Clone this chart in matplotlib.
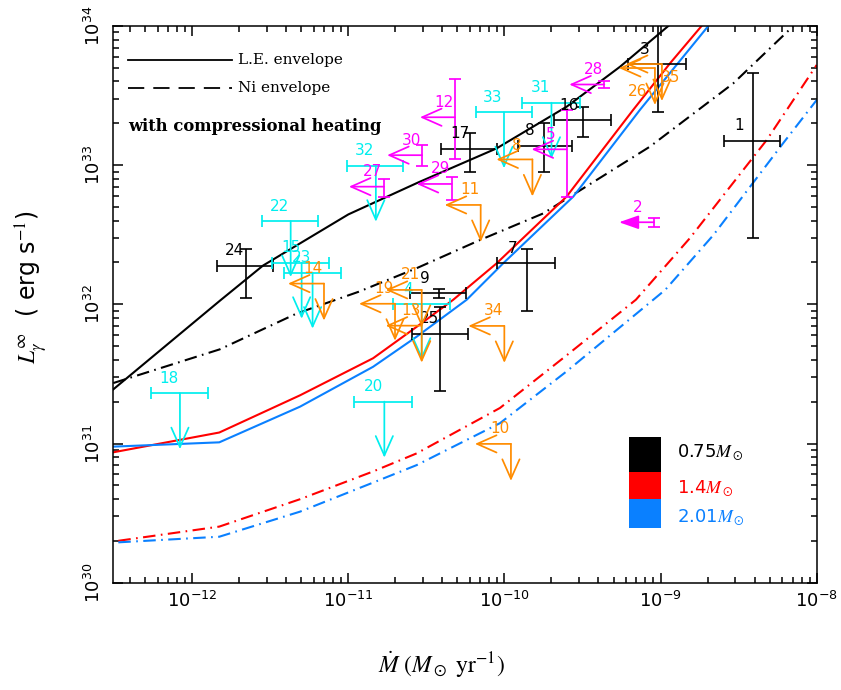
import matplotlib
matplotlib.use('Agg')
import matplotlib.pyplot as plt
from matplotlib.transforms import offset_copy
from matplotlib.patches import Rectangle
from matplotlib.ticker import LogLocator, NullFormatter

# ---- model cooling curves (Mdot [Msun/yr], L_gamma^inf [erg/s]) ----
le075_mdot = [3.12e-13, 1.5e-12, 2.84e-12, 1.0e-11, 2.79e-11, 8.9e-11, 2.5e-10, 5.5e-10, 1.12e-9]
le075_L = [2.45e31, 1.06e32, 1.9e32, 4.43e32, 7.5e32, 1.32e33, 2.63e33, 5.1e33, 1.0e34]

ni075_mdot = [3.12e-13, 1.5e-12, 4.67e-12, 1.16e-11, 2.74e-11, 6.97e-11, 1.77e-10, 8.55e-10, 2.92e-9, 7.08e-9]
ni075_L = [2.72e31, 4.75e31, 8.6e31, 1.23e32, 1.82e32, 2.9e32, 4.5e32, 1.36e33, 3.87e33, 1.0e34]

le14_mdot = [3.12e-13, 1.49e-12, 4.9e-12, 1.44e-11, 2.74e-11, 4.7e-11, 8.9e-11, 2.5e-10, 6.68e-10, 1.15e-9, 1.83e-9]
le14_L = [8.65e30, 1.2e31, 2.22e31, 4.1e31, 6.9e31, 1.08e32, 1.97e32, 5.95e32, 2.5e33, 5.4e33, 1.0e34]

le201_mdot = [3.12e-13, 1.49e-12, 4.9e-12, 1.44e-11, 2.74e-11, 5.73e-11, 9.8e-11, 2.76e-10, 7.38e-10, 2.02e-9]
le201_L = [9.5e30, 1.02e31, 1.84e31, 3.56e31, 5.86e31, 1.08e32, 1.97e32, 5.95e32, 2.5e33, 1.0e34]

ni14_mdot = [3.36e-13, 1.49e-12, 4.9e-12, 1.44e-11, 2.74e-11, 9.35e-11, 2.5e-10, 6.95e-10, 1.54e-9, 4.79e-9, 1.0e-8]
ni14_L = [2.0e30, 2.53e30, 3.98e30, 6.3e30, 8.5e30, 1.8e31, 4.3e31, 1.08e32, 2.99e32, 1.52e33, 5.25e33]

ni201_mdot = [3.36e-13, 1.49e-12, 4.9e-12, 1.44e-11, 2.74e-11, 9.35e-11, 2.5e-10, 1.07e-9, 2.18e-9, 6.1e-9, 1.0e-8]
ni201_L = [1.95e30, 2.14e30, 3.24e30, 5.24e30, 7.0e30, 1.4e31, 3.3e31, 1.27e32, 3.15e32, 1.44e33, 2.94e33]

# ---- observed sources ----
# black: Mdot and L both measured
det_id = ['1', '3', '7', '8', '9', '16', '17', '24', '25']
det_mdot = [3.89e-9, 9.66e-10, 1.39e-10, 1.79e-10, 3.80e-11, 3.2e-10, 6.01e-11, 2.20e-12, 3.86e-11]
det_mdot_lo = [2.55e-9, 6.21e-10, 8.91e-11, 1.22e-10, 2.48e-11, 2.07e-10, 3.90e-11, 1.43e-12, 2.54e-11]
det_mdot_hi = [5.82e-9, 1.46e-9, 2.11e-10, 2.69e-10, 5.66e-11, 4.79e-10, 8.91e-11, 3.27e-12, 5.86e-11]
det_L = [1.50e33, 5.31e33, 1.97e32, 1.38e33, 1.20e32, 2.11e33, 1.30e33, 1.89e32, 6.10e31]
det_L_lo = [2.99e32, 2.42e33, 9.0e31, 8.98e32, 1.12e32, 1.60e33, 8.98e32, 1.11e32, 2.39e31]
det_L_hi = [4.62e33, 1.5e34, 2.49e32, 2.0e33, 1.28e32, 2.61e33, 1.69e33, 2.49e32, 9.62e31]

# cyan: Mdot measured, L upper limit
lup_id = ['4', '15', '18', '20', '22', '23', '31', '32', '33']
lup_mdot = [2.95e-11, 5.02e-12, 8.34e-13, 1.70e-11, 4.27e-12, 5.9e-12, 2.0e-10, 1.50e-11, 9.93e-11]
lup_mdot_lo = [1.94e-11, 3.23e-12, 5.41e-13, 1.09e-11, 2.79e-12, 3.88e-12, 1.30e-10, 9.75e-12, 6.54e-11]
lup_mdot_hi = [4.48e-11, 7.52e-12, 1.27e-12, 2.56e-11, 6.41e-12, 8.97e-12, 3.05e-10, 2.23e-11, 1.51e-10]
lup_L = [1.01e32, 1.99e32, 2.30e31, 2.0e31, 3.97e32, 1.69e32, 2.81e33, 9.91e32, 2.40e33]

# magenta: Mdot upper limit, L measured
mup_id = ['2', '5', '12', '27', '28', '29', '30']
mup_mdot = [9.08e-10, 2.50e-10, 4.82e-11, 1.69e-11, 4.36e-10, 4.59e-11, 2.97e-11]
mup_L = [3.89e32, 1.30e33, 2.21e33, 7.01e32, 3.80e33, 7.33e32, 1.18e33]
mup_L_lo = [3.58e32, 5.94e32, 1.10e33, 5.88e32, 3.57e33, 5.62e32, 9.87e32]
mup_L_hi = [4.16e32, 2.49e33, 4.16e33, 7.96e32, 4.03e33, 8.27e32, 1.40e33]

# orange: both upper limits
bup_id = ['8', '10', '11', '13', '14', '19', '21', '26', '34', '35']
bup_mdot = [1.51e-10, 1.10e-10, 7.04e-11, 2.95e-11, 6.98e-12, 1.99e-11, 2.95e-11, 9.2e-10, 9.98e-11, 1.02e-9]
bup_L = [1.10e33, 9.94e30, 5.18e32, 7.03e31, 1.41e32, 1.01e32, 1.27e32, 4.99e33, 7.0e31, 5.33e33]

# legend masses
mass_labels = ['0.75', '1.4', '2.01']

BLACK = 'black'
RED = '#ff0000'
BLUE = '#0a80ff'
CYAN = '#00eeee'
MAGENTA = '#ff00ff'
ORANGE = '#ff8c00'

fig = plt.figure(figsize=(8.41, 6.90), dpi=100)
ax = fig.add_axes([0.1347, 0.1555, 0.8364, 0.8068])
ax.set_xscale('log')
ax.set_yscale('log')
ax.set_xlim(3.12e-13, 1e-8)
ax.set_ylim(1e30, 1e34)

dashdot = (0, (6, 2.6, 0.8, 2.6))
ax.plot(le075_mdot, le075_L, color=BLACK, lw=1.5)
ax.plot(ni075_mdot, ni075_L, color=BLACK, lw=1.5, linestyle=dashdot)
ax.plot(le14_mdot, le14_L, color=RED, lw=1.5)
ax.plot(ni14_mdot, ni14_L, color=RED, lw=1.5, linestyle=dashdot)
ax.plot(le201_mdot, le201_L, color=BLUE, lw=1.5)
ax.plot(ni201_mdot, ni201_L, color=BLUE, lw=1.5, linestyle=dashdot)


def arrow(x, y, dx, dy, color, filled=False):
    """arrow from data point (x, y) to a tip offset by (dx, dy) pixels"""
    tip = offset_copy(ax.transData, fig=fig, x=dx, y=dy, units='dots')
    if filled:
        style = '-|>,head_length=1.2,head_width=0.42'
    else:
        style = '->,head_length=1.4,head_width=0.62'
    ax.annotate('', xy=(x, y), xycoords=tip, xytext=(x, y), textcoords='data',
                arrowprops=dict(arrowstyle=style, mutation_scale=10, color=color,
                                lw=1.25, shrinkA=0, shrinkB=0))


def label(x, y, text, color, off):
    ax.annotate(text, xy=(x, y), xytext=off, textcoords='offset pixels',
                ha='center', va='center', color=color, fontsize=11)


label_off = {('k', '17'): (-10, 16), ('k', '25'): (-10, 16), ('k', '24'): (-11, 15),
             ('c', '4'): (-14, 14), ('m', '2'): (-16, 15), ('m', '5'): (-16, 15),
             ('o', '8'): (-16, 14), ('o', '26'): (-17, -23), ('o', '35'): (9, -13)}

# black crosses
for i, sid in enumerate(det_id):
    x, y = det_mdot[i], det_L[i]
    ax.errorbar([x], [y],
                xerr=[[x - det_mdot_lo[i]], [det_mdot_hi[i] - x]],
                yerr=[[y - det_L_lo[i]], [det_L_hi[i] - y]],
                fmt='none', ecolor=BLACK, elinewidth=1.2, capsize=4, capthick=1.2)
    label(x, y, sid, BLACK, label_off.get(('k', sid), (-14, 15)))

# cyan: L upper limits
for i, sid in enumerate(lup_id):
    x, y = lup_mdot[i], lup_L[i]
    ax.errorbar([x], [y], xerr=[[x - lup_mdot_lo[i]], [lup_mdot_hi[i] - x]],
                fmt='none', ecolor=CYAN, elinewidth=1.25, capsize=4, capthick=1.25)
    arrow(x, y, 0, -56, CYAN)
    label(x, y, sid, CYAN, label_off.get(('c', sid), (-11, 15)))

# magenta: Mdot upper limits
for i, sid in enumerate(mup_id):
    x, y = mup_mdot[i], mup_L[i]
    ax.errorbar([x], [y], yerr=[[y - mup_L_lo[i]], [mup_L_hi[i] - y]],
                fmt='none', ecolor=MAGENTA, elinewidth=1.25, capsize=4, capthick=1.25)
    arrow(x, y, -35, 0, MAGENTA, filled=(sid == '2'))
    label(x, y, sid, MAGENTA, label_off.get(('m', sid), (-11, 15)))

# orange: both upper limits
for i, sid in enumerate(bup_id):
    x, y = bup_mdot[i], bup_L[i]
    arrow(x, y, -36, 0, ORANGE)
    arrow(x, y, 0, -37, ORANGE)
    label(x, y, sid, ORANGE, label_off.get(('o', sid), (-11, 15)))

# line-style key
ax.plot([0.0205, 0.1692], [0.9389, 0.9389], color=BLACK, lw=1.3, transform=ax.transAxes)
ax.plot([0.0205, 0.1692], [0.8892, 0.8892], color=BLACK, lw=1.3, transform=ax.transAxes,
        linestyle=(0, (9, 5)))
ax.text(0.1777, 0.9389, 'L.E. envelope', transform=ax.transAxes, va='center',
        family='DejaVu Serif', fontsize=11)
ax.text(0.1777, 0.8892, 'Ni envelope', transform=ax.transAxes, va='center',
        family='DejaVu Serif', fontsize=11)
ax.text(0.0213, 0.8191, 'with compressional heating', transform=ax.transAxes, va='center',
        family='DejaVu Serif', fontweight='bold', fontsize=11.8)

# mass key
key_colors = [BLACK, RED, BLUE]
key_y = [(0.1994, 0.2617), (0.1498, 0.1994), (0.0988, 0.1498)]
key_text_y = [0.2342, 0.1696, 0.1186]
for lab, col, (y0, y1), ty in zip(mass_labels, key_colors, key_y, key_text_y):
    ax.add_patch(Rectangle((0.7332, y0), 0.045, y1 - y0, transform=ax.transAxes,
                           facecolor=col, edgecolor='none'))
    ax.text(0.801, ty, lab + r'$M_\odot$', transform=ax.transAxes, va='center',
            color=col, fontsize=13, math_fontfamily='stix')

# axes styling
for side in ax.spines.values():
    side.set_linewidth(1.1)
ax.set_xticks([1e-12, 1e-11, 1e-10, 1e-9, 1e-8])
ax.set_yticks([1e30, 1e31, 1e32, 1e33, 1e34])
ax.xaxis.set_minor_locator(LogLocator(base=10, subs=range(2, 10), numticks=50))
ax.yaxis.set_minor_locator(LogLocator(base=10, subs=range(2, 10), numticks=50))
ax.xaxis.set_minor_formatter(NullFormatter())
ax.yaxis.set_minor_formatter(NullFormatter())
ax.set_xlim(3.12e-13, 1e-8)
ax.set_ylim(1e30, 1e34)
ax.tick_params(which='both', direction='in', top=True, right=True, width=1.1)
ax.tick_params(which='major', length=7.5, labelsize=13)
ax.tick_params(which='minor', length=4.5)
ax.tick_params(axis='x', pad=6)
ax.tick_params(axis='y', labelrotation=90, pad=7)
plt.setp(ax.get_yticklabels(), va='center')

fig.text(0.038, 0.584, r'$L_\gamma^\infty$  ( erg s$^{-1}$)', rotation=90,
         ha='center', va='center', fontsize=17, math_fontfamily='stix')
fig.text(0.5244, 0.0362, r'$\dot{M}\ (M_\odot\ {\rm yr}^{-1})$', ha='center', va='center',
         fontsize=17, math_fontfamily='stix')

fig.savefig('out.png', dpi=100)
